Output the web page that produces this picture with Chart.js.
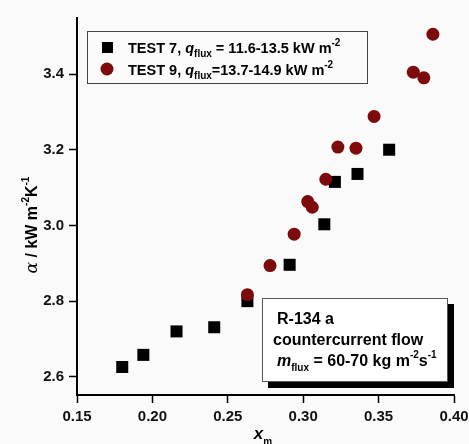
<!DOCTYPE html>
<html>
<head>
<meta charset="utf-8">
<script src="https://cdn.jsdelivr.net/npm/chart.js@4.4.0/dist/chart.umd.min.js"></script>
<style>
html, body { margin: 0; padding: 0; background: #fafafa; }
canvas { display: block; }
</style>
</head>
<body>
<canvas id="chart" width="469" height="444"></canvas>
<script>
// TEST 7 (squares)
const test7X = [0.180, 0.194, 0.216, 0.241, 0.263, 0.291, 0.314, 0.321, 0.336, 0.357];
const test7Y = [2.626, 2.658, 2.720, 2.731, 2.800, 2.896, 3.003, 3.115, 3.136, 3.200];
// TEST 9 (circles)
const test9X = [0.263, 0.278, 0.294, 0.303, 0.306, 0.315, 0.323, 0.335, 0.347, 0.373, 0.380, 0.386];
const test9Y = [2.817, 2.894, 2.977, 3.063, 3.048, 3.122, 3.207, 3.204, 3.288, 3.405, 3.390, 3.505];

const xTicks = [0.15, 0.20, 0.25, 0.30, 0.35, 0.40];
const yTicks = [2.6, 2.8, 3.0, 3.2, 3.4];

const toPoints = (xs, ys) => xs.map((x, i) => ({ x: x, y: ys[i] }));

const FONT = '"Liberation Sans", Arial, sans-serif';
const darkRed = '#7d0b0b';

function richText(ctx, x, y, parts, align) {
    let w = 0;
    parts.forEach(p => { ctx.font = p.font; w += ctx.measureText(p.t).width; });
    let cx = align === 'center' ? x - w / 2 : x;
    parts.forEach(p => {
        ctx.font = p.font;
        ctx.fillText(p.t, cx, y + (p.dy || 0));
        cx += ctx.measureText(p.t).width;
    });
}

const bLeg = 'bold 14.5px ' + FONT;
const biLeg = 'italic bold 14.5px ' + FONT;
const bBox = 'bold 16px ' + FONT;
const biBox = 'italic bold 16px ' + FONT;
const b16 = 'bold 16px ' + FONT;
const b10 = 'bold 10px ' + FONT;

const decorations = {
    id: 'decorations',
    beforeDraw(chart) {
        const ctx = chart.ctx;
        ctx.save();
        ctx.fillStyle = '#fafafa';
        ctx.fillRect(0, 0, chart.width, chart.height);
        ctx.restore();
    },
    afterDraw(chart) {
        const ctx = chart.ctx;
        ctx.save();
        ctx.textBaseline = 'alphabetic';

        // legend box
        ctx.fillStyle = '#fbfbfb';
        ctx.fillRect(87, 31, 280, 52);
        ctx.strokeStyle = '#444';
        ctx.lineWidth = 1;
        ctx.strokeRect(87.5, 31.5, 280, 52);
        ctx.fillStyle = '#000';
        ctx.fillRect(102, 42, 11, 11);
        ctx.fillStyle = darkRed;
        ctx.beginPath();
        ctx.arc(107, 69, 6.5, 0, Math.PI * 2);
        ctx.fill();
        ctx.fillStyle = '#000';
        richText(ctx, 128, 53, [
            { t: 'TEST 7, ', font: bLeg },
            { t: 'q', font: biLeg },
            { t: 'flux', font: b10, dy: 4 },
            { t: ' = 11.6-13.5 kW m', font: bLeg },
            { t: '-2', font: b10, dy: -7 }
        ]);
        richText(ctx, 128, 75, [
            { t: 'TEST 9, ', font: bLeg },
            { t: 'q', font: biLeg },
            { t: 'flux', font: b10, dy: 4 },
            { t: '=13.7-14.9 kW m', font: bLeg },
            { t: '-2', font: b10, dy: -7 }
        ]);

        // annotation box with shadow
        ctx.fillStyle = '#000';
        ctx.fillRect(268, 304, 186, 84);
        ctx.fillStyle = '#ffffff';
        ctx.fillRect(262, 298, 186, 84);
        ctx.strokeStyle = '#555';
        ctx.strokeRect(262.5, 298.5, 185, 83);
        ctx.fillStyle = '#000';
        richText(ctx, 277, 324, [{ t: 'R-134 a', font: bBox }]);
        richText(ctx, 273, 345, [{ t: 'countercurrent flow', font: bBox }]);
        richText(ctx, 277, 366, [
            { t: 'm', font: biBox },
            { t: 'flux', font: b10, dy: 5 },
            { t: ' = 60-70 kg m', font: bBox },
            { t: '-2', font: b10, dy: -8 },
            { t: 's', font: bBox },
            { t: '-1', font: b10, dy: -8 }
        ]);

        // x axis title
        richText(ctx, 263, 439, [
            { t: 'x', font: 'italic bold 17px ' + FONT },
            { t: 'm', font: b10, dy: 6 }
        ], 'center');

        // y axis title
        ctx.translate(37, 225);
        ctx.rotate(-Math.PI / 2);
        richText(ctx, 0, 0, [
            { t: 'α', font: 'italic 17px "DejaVu Serif", serif' },
            { t: ' / kW m', font: b16 },
            { t: '-2', font: b10, dy: -8 },
            { t: 'K', font: b16 },
            { t: '-1', font: b10, dy: -8 }
        ], 'center');
        ctx.restore();
    }
};

new Chart(document.getElementById('chart').getContext('2d'), {
    type: 'scatter',
    data: {
        datasets: [
            {
                label: 'TEST 7',
                data: toPoints(test7X, test7Y),
                pointStyle: 'rect',
                pointRadius: 8.5,
                backgroundColor: '#000',
                borderWidth: 0,
                order: 1
            },
            {
                label: 'TEST 9',
                data: toPoints(test9X, test9Y),
                pointStyle: 'circle',
                pointRadius: 6.5,
                backgroundColor: darkRed,
                borderWidth: 0,
                order: 0
            }
        ]
    },
    options: {
        responsive: false,
        animation: false,
        devicePixelRatio: 1,
        layout: { padding: { top: 18, right: 15, left: 0, bottom: 0 } },
        plugins: { legend: { display: false }, tooltip: { enabled: false } },
        scales: {
            x: {
                type: 'linear',
                min: 0.15,
                max: 0.40,
                afterBuildTicks: s => { s.ticks = xTicks.map(v => ({ value: v })); },
                afterFit: s => { s.height = 49; s.paddingLeft = 0; s.paddingRight = 0; },
                ticks: {
                    callback: v => v.toFixed(2),
                    font: { family: FONT, size: 15, weight: 'bold' },
                    color: '#111',
                    padding: 5,
                    maxRotation: 0,
                    autoSkip: false
                },
                grid: { drawOnChartArea: false, drawTicks: true, tickLength: 8, tickColor: '#000', tickWidth: 1.5 },
                border: { color: '#000', width: 2 }
            },
            y: {
                type: 'linear',
                min: 2.552,
                max: 3.548,
                afterBuildTicks: s => { s.ticks = yTicks.map(v => ({ value: v })); },
                afterFit: s => { s.width = 77; s.paddingTop = 0; s.paddingBottom = 0; },
                ticks: {
                    callback: v => v.toFixed(1),
                    font: { family: FONT, size: 15, weight: 'bold' },
                    color: '#111',
                    padding: 5,
                    autoSkip: false
                },
                grid: { drawOnChartArea: false, drawTicks: true, tickLength: 8, tickColor: '#000', tickWidth: 1.5 },
                border: { color: '#000', width: 2 }
            }
        }
    },
    plugins: [decorations]
});
</script>
</body>
</html>
